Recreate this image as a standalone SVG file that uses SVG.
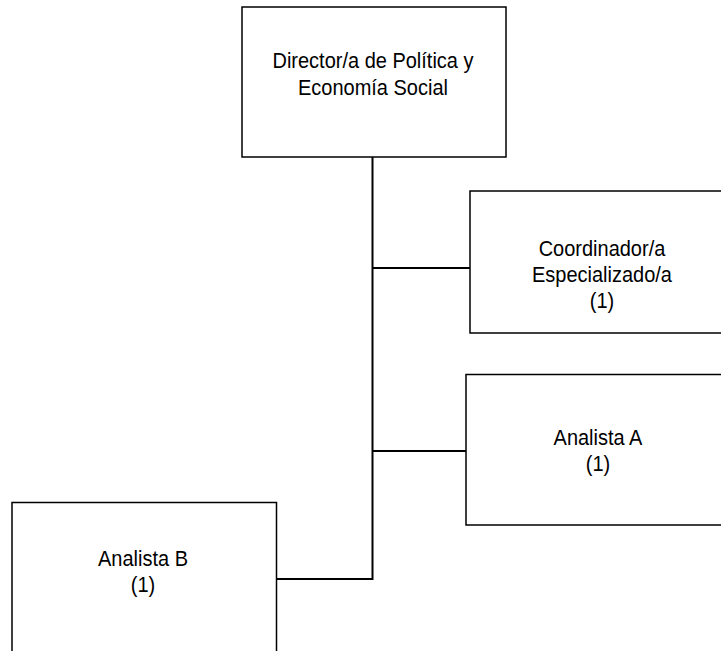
<svg xmlns="http://www.w3.org/2000/svg" width="721" height="651" viewBox="0 0 721 651">
<style>
.box{fill:#fff;stroke:#000;stroke-width:1.5}
.conn{fill:none;stroke:#000;stroke-width:2}
text{font-family:"Liberation Sans",Arial,sans-serif;font-size:21.5px;fill:#000;text-anchor:middle}
</style>
<rect width="721" height="651" fill="#fff"/>
<g id="connectors">
<path class="conn" d="M372.5,157 V579 H277"/>
<path class="conn" d="M372.5,268 H470"/>
<path class="conn" d="M372.5,451 H466"/>
</g>
<g id="director">
<rect class="box" x="242" y="7" width="264" height="150"/>
<g transform="matrix(0.93 0 0 1 26.11 0)">
<text x="373" y="68">Director/a de Política y</text>
<text x="373" y="95">Economía Social</text>
</g>
</g>
<g id="coordinador">
<rect class="box" x="470" y="191" width="270" height="142"/>
<g transform="matrix(0.93 0 0 1 42.14 0)">
<text x="602" y="256">Coordinador/a</text>
<text x="602" y="282">Especializado/a</text>
<text x="602" y="308">(1)</text>
</g>
</g>
<g id="analista-a">
<rect class="box" x="466" y="374.5" width="270" height="150.5"/>
<g transform="matrix(0.93 0 0 1 41.86 0)">
<text x="598" y="445">Analista A</text>
<text x="598" y="471">(1)</text>
</g>
</g>
<g id="analista-b">
<rect class="box" x="12" y="502.5" width="264.5" height="170"/>
<g transform="matrix(0.93 0 0 1 10.01 0)">
<text x="143" y="566">Analista B</text>
<text x="143" y="592">(1)</text>
</g>
</g>
</svg>
